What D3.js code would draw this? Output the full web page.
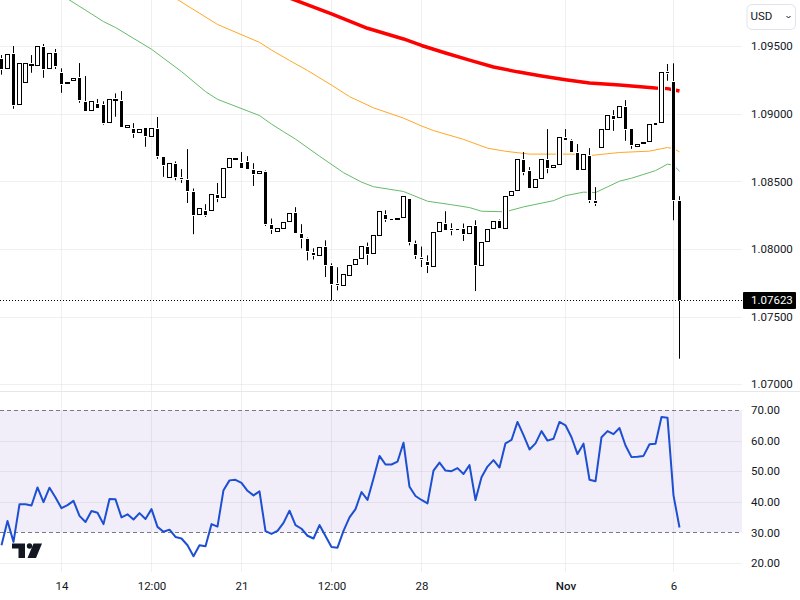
<!DOCTYPE html>
<html>
<head>
<meta charset="utf-8">
<script src="https://cdn.jsdelivr.net/npm/d3@7"></script>
<style>
	html, body { margin: 0; padding: 0; background: #fff; }
	svg { display: block; }
	text { font-family: Roboto, sans-serif; font-size: 11.5px; fill: #131722; }
</style>
</head>
<body>
<div id="chart"></div>
<script>
// Candles, one value per bar
const opens = [
	1.09402,1.09328,1.09441,1.09061,1.09224,1.09362,1.09354,1.09490,1.09328,1.09450,
	1.09300,1.09217,1.09239,1.09263,1.09086,1.09017,1.09071,1.09063,1.08928,1.09103,
	1.09093,1.08891,1.08884,1.08854,1.08893,1.08829,1.08886,1.08679,1.08528,1.08627,
	1.08523,1.08508,1.08420,1.08252,1.08279,1.08281,1.08397,1.08377,1.08595,1.08662,
	1.08639,1.08642,1.08582,1.08551,1.08568,1.08175,1.08129,1.08151,1.08203,1.08264,
	1.08109,1.08072,1.07968,1.07951,1.08013,1.07872,1.07739,1.07729,1.07803,1.07885,
	1.07929,1.08018,1.07966,1.08099,1.08249,1.08220,1.08218,1.08232,1.08373,1.08040,
	1.07931,1.07902,1.07870,1.08129,1.08188,1.08149,1.08151,1.08151,1.08114,1.08168,
	1.07877,1.08055,1.08151,1.08205,1.08151,1.08395,1.08432,1.08656,1.08575,1.08447,
	1.08514,1.08656,1.08595,1.08619,1.08819,1.08795,1.08708,1.08580,1.08686,1.08353,
	1.08743,1.08876,1.08982,1.08965,1.09049,1.08886,1.08750,1.08773,1.08787,1.08930,
	1.08928,1.09310,1.09234,1.08353
];
const highs = [
	1.09433,1.09439,1.09500,1.09372,1.09372,1.09433,1.09498,1.09515,1.09446,1.09478,
	1.09335,1.09236,1.09265,1.09374,1.09278,1.09091,1.09108,1.09091,1.09106,1.09150,
	1.09167,1.08913,1.08930,1.08888,1.08893,1.08891,1.08975,1.08679,1.08632,1.08647,
	1.08590,1.08738,1.08447,1.08306,1.08331,1.08403,1.08488,1.08595,1.08669,1.08676,
	1.08716,1.08686,1.08634,1.08573,1.08580,1.08225,1.08158,1.08203,1.08269,1.08309,
	1.08183,1.08084,1.08005,1.08018,1.08064,1.07894,1.07865,1.07815,1.07882,1.07929,
	1.08025,1.08047,1.08107,1.08277,1.08286,1.08220,1.08232,1.08388,1.08373,1.08062,
	1.08018,1.07953,1.08129,1.08200,1.08279,1.08190,1.08151,1.08188,1.08170,1.08212,
	1.08052,1.08148,1.08207,1.08218,1.08394,1.08432,1.08662,1.08716,1.08605,1.08514,
	1.08662,1.08886,1.08617,1.08824,1.08886,1.08810,1.08775,1.08699,1.08745,1.08457,
	1.08884,1.08987,1.09026,1.09054,1.09100,1.08886,1.08773,1.08787,1.08921,1.08930,
	1.09305,1.09367,1.09372,1.08390
];
const lows = [
	1.09288,1.09328,1.09036,1.09061,1.09224,1.09302,1.09354,1.09265,1.09328,1.09330,
	1.09154,1.09217,1.09239,1.09080,1.09021,1.09017,1.09043,1.08918,1.08928,1.08977,
	1.08903,1.08891,1.08821,1.08854,1.08755,1.08829,1.08666,1.08533,1.08528,1.08508,
	1.08488,1.08340,1.08109,1.08252,1.08237,1.08281,1.08346,1.08377,1.08595,1.08662,
	1.08599,1.08592,1.08466,1.08551,1.08170,1.08111,1.08129,1.08151,1.08203,1.08118,
	1.08005,1.07916,1.07922,1.07951,1.07793,1.07620,1.07694,1.07729,1.07803,1.07885,
	1.07929,1.07882,1.07966,1.08099,1.08200,1.08215,1.08218,1.08232,1.08027,1.07926,
	1.07867,1.07822,1.07870,1.08129,1.08141,1.08101,1.08144,1.08059,1.08114,1.07689,
	1.07877,1.08055,1.08151,1.08155,1.08151,1.08395,1.08432,1.08545,1.08451,1.08447,
	1.08514,1.08560,1.08595,1.08619,1.08804,1.08718,1.08585,1.08580,1.08340,1.08318,
	1.08743,1.08876,1.08873,1.08965,1.08799,1.08740,1.08750,1.08773,1.08787,1.08918,
	1.08928,1.09243,1.08212,1.07189
];
const closes = [
	1.09332,1.09439,1.09061,1.09372,1.09372,1.09367,1.09498,1.09332,1.09446,1.09352,
	1.09221,1.09236,1.09265,1.09100,1.09021,1.09091,1.09043,1.08928,1.09106,1.09108,
	1.08903,1.08913,1.08858,1.08888,1.08836,1.08891,1.08688,1.08622,1.08632,1.08533,
	1.08518,1.08429,1.08252,1.08306,1.08249,1.08403,1.08375,1.08595,1.08669,1.08676,
	1.08599,1.08592,1.08555,1.08573,1.08183,1.08146,1.08158,1.08203,1.08269,1.08118,
	1.08081,1.07985,1.07959,1.08018,1.07882,1.07741,1.07734,1.07815,1.07882,1.07929,
	1.08025,1.07963,1.08107,1.08277,1.08220,1.08215,1.08232,1.08388,1.08052,1.07956,
	1.07927,1.07879,1.08129,1.08200,1.08141,1.08146,1.08144,1.08109,1.08170,1.07882,
	1.08052,1.08148,1.08207,1.08155,1.08394,1.08432,1.08662,1.08570,1.08451,1.08514,
	1.08662,1.08597,1.08617,1.08824,1.08804,1.08718,1.08585,1.08699,1.08363,1.08338,
	1.08884,1.08987,1.08962,1.09054,1.08886,1.08767,1.08773,1.08787,1.08921,1.08918,
	1.09305,1.09305,1.08363,1.07623
];

// Moving averages, read at selected bars
const ma20Bars = [10,15,17,19,25,30,34,36,43,45,47,49,53,57,60,62,67,71,75,78,80,84,87,92,94,97,99,103,105,109,111,112,113];
const ma20Values = [1.09877,1.09737,1.09680,1.09637,1.09476,1.09311,1.09163,1.09106,1.08986,1.08923,1.08867,1.08812,1.08686,1.08564,1.08494,1.08460,1.08425,1.08353,1.08327,1.08306,1.08279,1.08275,1.08311,1.08357,1.08394,1.08420,1.08417,1.08501,1.08523,1.08579,1.08627,1.08619,1.08575];
const ma50Bars = [29,33,36,43,45,48,51,55,58,62,67,70,72,77,81,84,88,95,98,103,108,110,111,112,113];
const ma50Values = [1.09852,1.09742,1.09659,1.09527,1.09470,1.09393,1.09319,1.09211,1.09126,1.09043,1.08967,1.08909,1.08875,1.08810,1.08745,1.08722,1.08701,1.08701,1.08690,1.08713,1.08723,1.08741,1.08750,1.08741,1.08718];
const ma100Bars = [48,55,61,67,70,74,78,82,86,90,94,98,103,109,111,113];
const ma100Values = [1.09855,1.09737,1.09631,1.09552,1.09504,1.09448,1.09396,1.09345,1.09309,1.09278,1.09250,1.09226,1.09211,1.09189,1.09185,1.09167];

// RSI, one value per bar
const rsiValues = [
	25.8,33.7,26.9,39.2,39.2,38.8,44.7,39.9,44.6,41.4,
	37.9,38.9,40.3,35.4,33.4,37.0,36.4,32.7,40.9,40.8,
	34.9,35.9,34.2,36.3,34.4,37.6,31.8,30.2,30.9,28.5,
	28.0,25.8,22.2,25.8,25.5,32.7,31.9,43.8,47.0,47.2,
	46.2,43.6,42.1,43.4,30.4,29.5,30.5,33.1,37.1,32.4,
	31.2,28.9,28.0,32.4,28.8,25.2,25.0,30.5,34.9,37.6,
	43.2,40.6,47.6,55.0,52.2,52.2,53.1,59.3,44.9,41.9,
	40.6,39.5,50.2,52.8,50.2,50.0,51.0,49.1,52.0,40.6,
	48.0,51.5,53.6,51.2,59.1,60.2,66.1,61.8,57.1,59.1,
	63.1,60.0,60.6,66.1,65.0,61.1,55.6,59.0,47.2,46.7,
	61.1,63.1,62.1,64.1,58.4,54.6,54.7,55.0,58.8,59.0,
	67.7,67.5,42.1,31.6
];

// Axis ticks
const priceTicks = [1.07, 1.075, 1.08, 1.085, 1.09, 1.095];
const rsiTicks = [20, 30, 40, 50, 60, 70];
const timeTickBars = [10, 25, 40, 55, 70, 94, 112];
const timeTickLabels = ['14', '12:00', '21', '12:00', '28', 'Nov', '6'];
const lastPrice = 1.07623;
const currency = 'USD';

const width = 800;
const height = 600;
const plotRight = 742;
const paneSplit = 392;
const axisTop = 572;

const svg = d3.select('#chart')
	.append('svg')
	.attr('width', width)
	.attr('height', height)
	.attr('viewBox', [0, 0, width, height]);

const x = d3.scaleLinear().domain([0, 113]).range([1.5, 679.5]);
const yPrice = d3.scaleLinear().domain([1.07, 1.095]).range([384.3, 46]);
const yRsi = d3.scaleLinear().domain([20, 70]).range([563, 410]);

svg.append('clipPath').attr('id', 'price-clip')
	.append('rect').attr('width', plotRight).attr('height', paneSplit);

// RSI band
svg.append('rect')
	.attr('x', 0)
	.attr('y', yRsi(70))
	.attr('width', plotRight)
	.attr('height', yRsi(30) - yRsi(70))
	.attr('fill', 'rgba(126, 87, 194, 0.1)');

// Grid
const gridColor = 'rgba(42, 46, 57, 0.07)';

svg.append('g').selectAll('line')
	.data(timeTickBars)
	.join('line')
	.attr('x1', (d) => x(d))
	.attr('x2', (d) => x(d))
	.attr('y1', 0)
	.attr('y2', axisTop)
	.attr('stroke', gridColor);

svg.append('g').selectAll('line')
	.data(priceTicks)
	.join('line')
	.attr('x1', 0)
	.attr('x2', plotRight)
	.attr('y1', (d) => Math.round(yPrice(d)) + 0.5)
	.attr('y2', (d) => Math.round(yPrice(d)) + 0.5)
	.attr('stroke', gridColor);

svg.append('g').selectAll('line')
	.data(rsiTicks.filter((d) => d != 30 && d != 70))
	.join('line')
	.attr('x1', 0)
	.attr('x2', plotRight)
	.attr('y1', (d) => Math.round(yRsi(d)) + 0.5)
	.attr('y2', (d) => Math.round(yRsi(d)) + 0.5)
	.attr('stroke', gridColor);

svg.append('g').selectAll('line')
	.data([30, 70])
	.join('line')
	.attr('x1', 0)
	.attr('x2', plotRight)
	.attr('y1', (d) => Math.round(yRsi(d)) + 0.5)
	.attr('y2', (d) => Math.round(yRsi(d)) + 0.5)
	.attr('stroke', '#787b86')
	.attr('stroke-dasharray', '4 3');

svg.append('line')
	.attr('x1', 0)
	.attr('x2', width)
	.attr('y1', paneSplit - 0.5)
	.attr('y2', paneSplit - 0.5)
	.attr('stroke', '#e6e7ec');

// Moving averages sit under the candles
const pricePane = svg.append('g').attr('clip-path', 'url(#price-clip)');

function drawAverage(bars, values, color, lineWidth) {
	const line = d3.line()
		.x((d) => x(d))
		.y((d, i) => yPrice(values[i]));
	pricePane.append('path')
		.attr('d', line(bars))
		.attr('fill', 'none')
		.attr('stroke', color)
		.attr('stroke-width', lineWidth)
		.attr('stroke-linejoin', 'round');
}

drawAverage(ma20Bars, ma20Values, '#66bb6a', 1);
drawAverage(ma50Bars, ma50Values, '#ffa726', 1);
drawAverage(ma100Bars, ma100Values, '#ff0000', 3.5);

// Candles: wick, white halo, then body
const candles = pricePane.selectAll('g.candle')
	.data(d3.range(opens.length))
	.join('g')
	.attr('class', 'candle');

const bodyTop = (i) => Math.round(yPrice(Math.max(opens[i], closes[i])));
const bodyBottom = (i) => Math.round(yPrice(Math.min(opens[i], closes[i])));
const isUp = (i) => closes[i] > opens[i];

candles.append('line')
	.attr('x1', (i) => x(i))
	.attr('x2', (i) => x(i))
	.attr('y1', (i) => yPrice(highs[i]))
	.attr('y2', (i) => yPrice(lows[i]))
	.attr('stroke', '#000');

candles.append('rect')
	.attr('x', (i) => x(i) - (isUp(i) ? 3.5 : 2.5))
	.attr('width', (i) => (isUp(i) ? 7 : 5))
	.attr('y', (i) => bodyTop(i) - 1)
	.attr('height', (i) => Math.max(bodyBottom(i) - bodyTop(i), 1) + 2)
	.attr('fill', '#fff');

candles.append('rect')
	.attr('x', (i) => x(i) - (isUp(i) ? 2 : 1.5))
	.attr('width', (i) => (isUp(i) ? 4 : 3))
	.attr('y', (i) => (isUp(i) ? bodyTop(i) + 0.5 : bodyTop(i)))
	.attr('height', (i) => (isUp(i) ? Math.max(bodyBottom(i) - bodyTop(i) - 1, 1) : Math.max(bodyBottom(i) - bodyTop(i), 1)))
	.attr('fill', (i) => (isUp(i) ? '#fff' : '#000'))
	.attr('stroke', (i) => (isUp(i) ? '#000' : 'none'));

// Last price line
svg.append('line')
	.attr('x1', 0)
	.attr('x2', plotRight)
	.attr('y1', Math.round(yPrice(lastPrice)) + 0.5)
	.attr('y2', Math.round(yPrice(lastPrice)) + 0.5)
	.attr('stroke', '#000')
	.attr('stroke-dasharray', '1 2');

// RSI line
const rsiLine = d3.line()
	.x((d, i) => x(i))
	.y((d) => yRsi(d));

svg.append('path')
	.attr('d', rsiLine(rsiValues))
	.attr('fill', 'none')
	.attr('stroke', '#1c4fd1')
	.attr('stroke-width', 2)
	.attr('stroke-linejoin', 'round');

// Axes
function styleAxis(g) {
	g.select('.domain').remove();
	g.selectAll('.tick line').remove();
	g.selectAll('text').attr('fill', null).style('font-family', null).style('font-size', null);
	g.attr('font-family', null).attr('font-size', null);
}

svg.append('g')
	.attr('transform', 'translate(' + [751, 0] + ')')
	.call(d3.axisRight(yPrice).tickValues(priceTicks).tickFormat(d3.format('.5f')).tickSize(0).tickPadding(0))
	.call(styleAxis);

svg.append('g')
	.attr('transform', 'translate(' + [751, 0] + ')')
	.call(d3.axisRight(yRsi).tickValues(rsiTicks).tickFormat(d3.format('.2f')).tickSize(0).tickPadding(0))
	.call(styleAxis);

svg.append('g')
	.attr('transform', 'translate(' + [0, axisTop + 9.5] + ')')
	.call(d3.axisBottom(x).tickValues(timeTickBars).tickFormat((d, i) => timeTickLabels[i]).tickSize(0).tickPadding(0))
	.call(styleAxis)
	.selectAll('text')
	.style('font-weight', (d, i) => (timeTickLabels[i] == 'Nov' ? 500 : 400));

// Last price label
svg.append('rect')
	.attr('x', 743)
	.attr('y', yPrice(lastPrice) - 8)
	.attr('width', 53)
	.attr('height', 17)
	.attr('rx', 1)
	.attr('fill', '#000');

svg.append('text')
	.attr('x', 751)
	.attr('y', yPrice(lastPrice) + 0.5)
	.attr('dy', '0.32em')
	.style('fill', '#fff')
	.text(d3.format('.5f')(lastPrice));

// Currency button
svg.append('rect')
	.attr('x', 747)
	.attr('y', 4.5)
	.attr('width', 48.5)
	.attr('height', 25)
	.attr('rx', 5)
	.attr('fill', '#fff')
	.attr('stroke', '#e0e3eb');

svg.append('text')
	.attr('x', 750.5)
	.attr('y', 16.5)
	.attr('dy', '0.32em')
	.text(currency);

svg.append('path')
	.attr('d', 'M786.5 16l2 2 2-2')
	.attr('fill', 'none')
	.attr('stroke', '#131722')
	.attr('stroke-width', 1);

// Logo
svg.append('path')
	.attr('d', 'M12 543.5h13v14.5h-6.5v-9.5h-6.5z M42 543.5l-6 14.5h-8.5l6-14.5z')
	.attr('fill', '#131722');

svg.append('circle')
	.attr('cx', 29.5)
	.attr('cy', 546)
	.attr('r', 2.7)
	.attr('fill', '#131722');
</script>
</body>
</html>
